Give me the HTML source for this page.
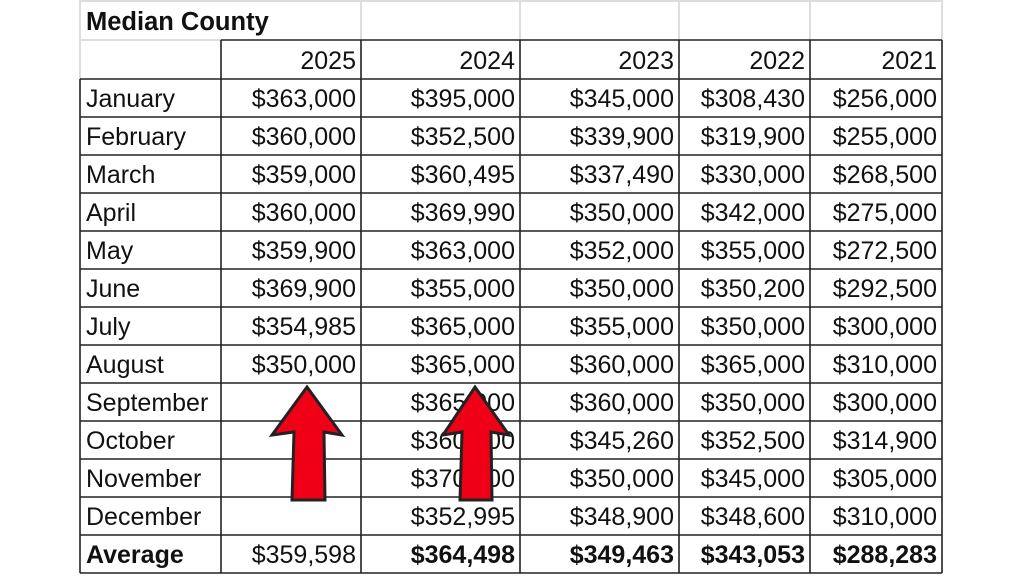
<!DOCTYPE html>
<html><head><style>
body{margin:0;width:1024px;height:576px;background:#fff;overflow:hidden;font-family:"Liberation Sans",Arial,sans-serif}
svg{position:absolute;left:0;top:0}
text{font-family:"Liberation Sans",Arial,sans-serif;font-size:25px;fill:#111}
.b{font-weight:bold}
</style></head><body>
<svg width="1024" height="576" viewBox="0 0 1024 576">
<g stroke="#ddd" stroke-width="2">
<line x1="80" y1="0" x2="80" y2="40"/><line x1="361" y1="0" x2="361" y2="40"/><line x1="520" y1="0" x2="520" y2="40"/><line x1="679" y1="0" x2="679" y2="40"/><line x1="810" y1="0" x2="810" y2="40"/><line x1="942" y1="0" x2="942" y2="40"/>
<line x1="80" y1="40" x2="221" y2="40"/><line x1="80" y1="40" x2="80" y2="79"/>
<line x1="80" y1="1" x2="942" y2="1"/>
</g>
<g stroke="#222" stroke-width="1.6">
<line x1="221" y1="40" x2="942" y2="40"/>
<line x1="80" y1="79" x2="942" y2="79"/><line x1="80" y1="117" x2="942" y2="117"/><line x1="80" y1="155" x2="942" y2="155"/><line x1="80" y1="193" x2="942" y2="193"/><line x1="80" y1="231" x2="942" y2="231"/><line x1="80" y1="269" x2="942" y2="269"/><line x1="80" y1="307" x2="942" y2="307"/><line x1="80" y1="345" x2="942" y2="345"/><line x1="80" y1="383" x2="942" y2="383"/><line x1="80" y1="421" x2="942" y2="421"/><line x1="80" y1="459" x2="942" y2="459"/><line x1="80" y1="497" x2="942" y2="497"/><line x1="80" y1="535" x2="942" y2="535"/><line x1="80" y1="573" x2="942" y2="573"/>
<line x1="80" y1="79" x2="80" y2="573"/>
<line x1="221" y1="40" x2="221" y2="573"/><line x1="361" y1="40" x2="361" y2="573"/><line x1="520" y1="40" x2="520" y2="573"/><line x1="679" y1="40" x2="679" y2="573"/><line x1="810" y1="40" x2="810" y2="573"/><line x1="942" y1="40" x2="942" y2="573"/>
</g>
<text x="86" y="30" class="b" style="font-size:25.5px">Median County</text>
<g text-anchor="end">
<text x="356" y="69">2025</text><text x="515" y="69">2024</text><text x="674" y="69">2023</text><text x="805" y="69">2022</text><text x="937" y="69">2021</text>
</g>
<g>
<text x="86" y="107">January</text><text x="86" y="145">February</text><text x="86" y="183">March</text><text x="86" y="221">April</text><text x="86" y="259">May</text><text x="86" y="297">June</text><text x="86" y="335">July</text><text x="86" y="373">August</text><text x="86" y="411">September</text><text x="86" y="449">October</text><text x="86" y="487">November</text><text x="86" y="525">December</text><text x="86" y="563" class="b">Average</text>
</g>
<g text-anchor="end">
<text x="356" y="107">$363,000</text><text x="356" y="145">$360,000</text><text x="356" y="183">$359,000</text><text x="356" y="221">$360,000</text><text x="356" y="259">$359,900</text><text x="356" y="297">$369,900</text><text x="356" y="335">$354,985</text><text x="356" y="373">$350,000</text><text x="356" y="563">$359,598</text>
<text x="515" y="107">$395,000</text><text x="515" y="145">$352,500</text><text x="515" y="183">$360,495</text><text x="515" y="221">$369,990</text><text x="515" y="259">$363,000</text><text x="515" y="297">$355,000</text><text x="515" y="335">$365,000</text><text x="515" y="373">$365,000</text><text x="515" y="411">$365,000</text><text x="515" y="449">$360,000</text><text x="515" y="487">$370,000</text><text x="515" y="525">$352,995</text><text x="515" y="563" class="b">$364,498</text>
<text x="674" y="107">$345,000</text><text x="674" y="145">$339,900</text><text x="674" y="183">$337,490</text><text x="674" y="221">$350,000</text><text x="674" y="259">$352,000</text><text x="674" y="297">$350,000</text><text x="674" y="335">$355,000</text><text x="674" y="373">$360,000</text><text x="674" y="411">$360,000</text><text x="674" y="449">$345,260</text><text x="674" y="487">$350,000</text><text x="674" y="525">$348,900</text><text x="674" y="563" class="b">$349,463</text>
<text x="805" y="107">$308,430</text><text x="805" y="145">$319,900</text><text x="805" y="183">$330,000</text><text x="805" y="221">$342,000</text><text x="805" y="259">$355,000</text><text x="805" y="297">$350,200</text><text x="805" y="335">$350,000</text><text x="805" y="373">$365,000</text><text x="805" y="411">$350,000</text><text x="805" y="449">$352,500</text><text x="805" y="487">$345,000</text><text x="805" y="525">$348,600</text><text x="805" y="563" class="b">$343,053</text>
<text x="937" y="107">$256,000</text><text x="937" y="145">$255,000</text><text x="937" y="183">$268,500</text><text x="937" y="221">$275,000</text><text x="937" y="259">$272,500</text><text x="937" y="297">$292,500</text><text x="937" y="335">$300,000</text><text x="937" y="373">$310,000</text><text x="937" y="411">$300,000</text><text x="937" y="449">$314,900</text><text x="937" y="487">$305,000</text><text x="937" y="525">$310,000</text><text x="937" y="563" class="b">$288,283</text>
</g>
<g fill="#f00016" stroke="#222" stroke-width="3" stroke-linejoin="miter">
<polygon points="307,387 342,435 324,432 325,500 292,500 294,432 272,435"/>
<polygon points="475,387 509,435 491,432 492,500 460,500 462,432 443,435"/>
</g>
</svg>
</body></html>
